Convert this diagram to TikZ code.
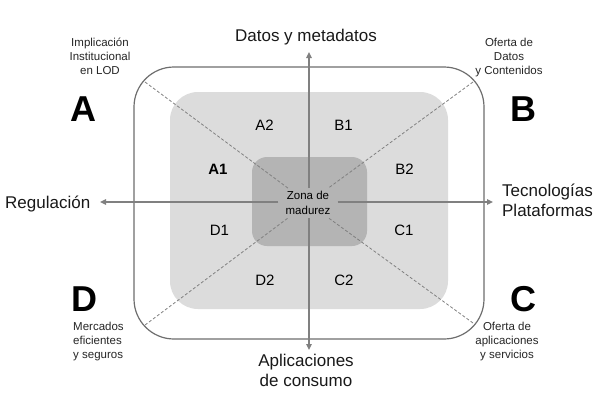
\documentclass[tikz,border=0pt]{standalone}
\usepackage{fontspec}
\setmainfont{Liberation Sans}
\usetikzlibrary{arrows.meta}
\definecolor{axisgray}{HTML}{808080}
\definecolor{bordergray}{HTML}{6E6E6E}
\definecolor{zoneA}{HTML}{DCDCDC}
\definecolor{zoneB}{HTML}{B4B4B4}
\begin{document}
\begin{tikzpicture}[x=1pt,y=-1pt,
  axislbl/.style={font=\fontsize{17}{19.5}\selectfont, inner sep=0pt, align=center, text=black!90},
  small/.style={font=\fontsize{11.5}{13.7}\selectfont, inner sep=0pt, text=black!85},
  big/.style={font=\fontsize{36}{36}\selectfont\bfseries, inner sep=0pt},
  quad/.style={font=\fontsize{15}{16}\selectfont, inner sep=0pt, anchor=base},
  axis/.style={draw=axisgray, line width=1.6pt, -{Triangle[length=6pt,width=5.5pt]}},
  diag/.style={draw=axisgray, line width=0.8pt, dash pattern=on 3pt off 2pt},
]
\useasboundingbox (0,0) rectangle (599,405);
\fill[white] (0,0) rectangle (599,405);
% nested zones
\draw[rounded corners=40pt, draw=bordergray, line width=1.2pt] (134,67) rectangle (484,339);
\fill[zoneA, rounded corners=28pt] (170,92) rectangle (448,309);
\fill[zoneB, rounded corners=15pt] (252,157) rectangle (367,246);
% centre
\node[font=\fontsize{11.5}{15}\selectfont, align=center, inner xsep=7pt, inner ysep=3pt] (zona) at (308,203) {Zona de\\madurez};
% axis ends and diagonal starts
\coordinate (top) at (309,52);
\coordinate (bot) at (309,350);
\coordinate (lft) at (100,202);
\coordinate (rgt) at (493,202);
\coordinate (cA) at (145,82);
\coordinate (cB) at (473,82);
\coordinate (cC) at (473,323);
\coordinate (cD) at (145,325);
\draw[diag] (cA) -- (zona);
\draw[diag] (cB) -- (zona);
\draw[diag] (cC) -- (zona);
\draw[diag] (cD) -- (zona);
\draw[axis] (zona.north -| top) -- (top);
\draw[axis] (zona.south -| bot) -- (bot);
\draw[axis] (zona.west |- lft) -- (lft);
\draw[axis] (zona.east |- rgt) -- (rgt);
% axis labels (base anchor = last line baseline)
\node[axislbl, anchor=base] (datos) at (306,41.5) {Datos y metadatos};
\node[axislbl, anchor=base west] (regul) at (5,208.5) {Regulación};
\node[axislbl, anchor=base] (tecno) at (547.5,216) {Tecnologías\\Plataformas};
\node[axislbl, anchor=base] (aplic) at (306,386) {Aplicaciones\\de consumo};
% corner letters
\node[big, anchor=base] (A) at (83.5,121) {A};
\node[big, anchor=base] (B) at (523.5,121) {B};
\node[big, anchor=base] (C) at (523.5,311) {C};
\node[big, anchor=base] (D) at (84,311) {D};
% corner captions
\node[small, align=center, anchor=base] (capA) at (100,74) {Implicación\\Institucional\\en LOD};
\node[small, align=center, anchor=base] (capB) at (509,74) {Oferta de\\Datos\\y Contenidos};
\node[small, align=center, anchor=base] (capC) at (507,358) {Oferta de\\aplicaciones\\y servicios};
\node[small, align=left, anchor=base west] (capD) at (73,358) {Mercados\\eficientes\\y seguros};
% quadrant labels
\node[quad] (a2) at (264.5,130) {A2};
\node[quad] (b1) at (343.5,130) {B1};
\node[quad, font=\fontsize{15}{16}\selectfont\bfseries] (a1) at (218,174) {A1};
\node[quad] (b2) at (404.5,174) {B2};
\node[quad] (d1) at (219.5,235) {D1};
\node[quad] (c1) at (404,235) {C1};
\node[quad] (d2) at (265,285) {D2};
\node[quad] (c2) at (344,285) {C2};
\end{tikzpicture}
\end{document}
